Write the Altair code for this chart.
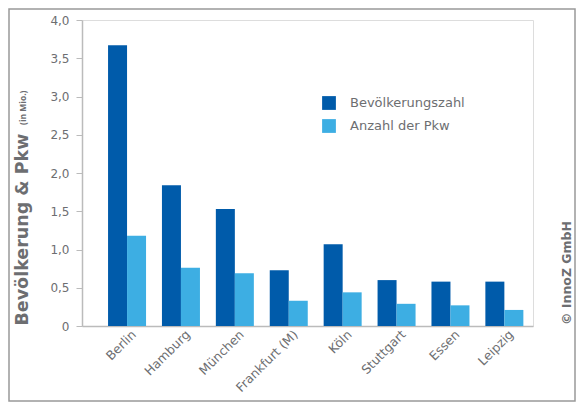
import altair as alt
import pandas as pd

cities = ["Berlin", "Hamburg", "München", "Frankfurt (M)", "Köln", "Stuttgart", "Essen", "Leipzig"]
bevoelkerung = [3.67, 1.84, 1.53, 0.73, 1.07, 0.60, 0.58, 0.58]
pkw = [1.18, 0.76, 0.69, 0.33, 0.44, 0.29, 0.27, 0.21]
series = ["Bevölkerungszahl", "Anzahl der Pkw"]
colors = ["#005BAA", "#3DAEE3"]
y_ticks = [0, 0.5, 1.0, 1.5, 2.0, 2.5, 3.0, 3.5, 4.0]

rows = []
for c, b, p in zip(cities, bevoelkerung, pkw):
    rows.append({"Stadt": c, "Reihe": series[0], "Wert": b})
    rows.append({"Stadt": c, "Reihe": series[1], "Wert": p})
df = pd.DataFrame(rows)

FONT = "DejaVu Sans"
GRAY = "#6d6e71"
W, H = 451, 306

bars = alt.Chart(df).mark_bar().encode(
    x=alt.X("Stadt:N", sort=cities,
            scale=alt.Scale(paddingInner=0.295, paddingOuter=0.331, align=0.73),
            axis=alt.Axis(title=None, labelAngle=-45, labelAlign="right", labelBaseline="middle",
                          ticks=False, labelPadding=6, labelOffset=7, labelFontSize=12.5, labelColor=GRAY,
                          labelFont=FONT, domainColor="#bbbbbb", domainWidth=1.5)),
    xOffset=alt.XOffset("Reihe:N", sort=series),
    y=alt.Y("Wert:Q", scale=alt.Scale(domain=[0, 4]),
            axis=alt.Axis(values=y_ticks, grid=False,
                          labelExpr="datum.value == 0 ? '0' : replace(format(datum.value, '.1f'), '.', ',')",
                          labelFontSize=12, labelColor=GRAY, labelFont=FONT, labelPadding=7,
                          tickColor="#bbbbbb", tickSize=6, domainColor="#bbbbbb", domainWidth=1.5,
                          title="Bevölkerung & Pkw", titleFont=FONT, titleFontSize=17.5,
                          titleFontWeight="bold", titleColor=GRAY, titleAngle=270,
                          titleX=-60, titleY=305, titleAlign="left", titleBaseline="middle")),
    color=alt.Color("Reihe:N", sort=series, scale=alt.Scale(domain=series, range=colors),
                    legend=alt.Legend(title=None, orient="none", legendX=240, legendY=76,
                                      symbolType="square", symbolSize=190, symbolStrokeWidth=0,
                                      labelFontSize=13, labelColor=GRAY, labelFont=FONT,
                                      rowPadding=9, labelOffset=14)),
)

unit = alt.Chart(pd.DataFrame({"t": ["(in Mio.)"]})).mark_text(
    angle=270, align="left", baseline="middle", fontSize=8.5, fontWeight="bold",
    font="Open Sans", color=GRAY
).encode(x=alt.value(-59), y=alt.value(105), text="t:N")

copy = alt.Chart(pd.DataFrame({"t": ["© InnoZ GmbH"]})).mark_text(
    angle=270, align="left", baseline="middle", fontSize=12.5, fontWeight="bold",
    font=FONT, color=GRAY
).encode(x=alt.value(485), y=alt.value(305), text="t:N")

frame = alt.Chart(pd.DataFrame({"a": [0]})).mark_rect(
    fill=None, stroke="#999999", strokeWidth=1.5
).encode(x=alt.value(-73), x2=alt.value(493), y=alt.value(-11), y2=alt.value(381))

chart = alt.layer(bars, unit, copy, frame).properties(
    width=W, height=H,
    autosize=alt.AutoSizeParams(type="none"),
    padding={"left": 74, "top": 12, "right": 43, "bottom": 76},
).configure_view(stroke=None).configure(background="white")

chart.save("out.html", embed_options={"renderer": "svg", "actions": False})
